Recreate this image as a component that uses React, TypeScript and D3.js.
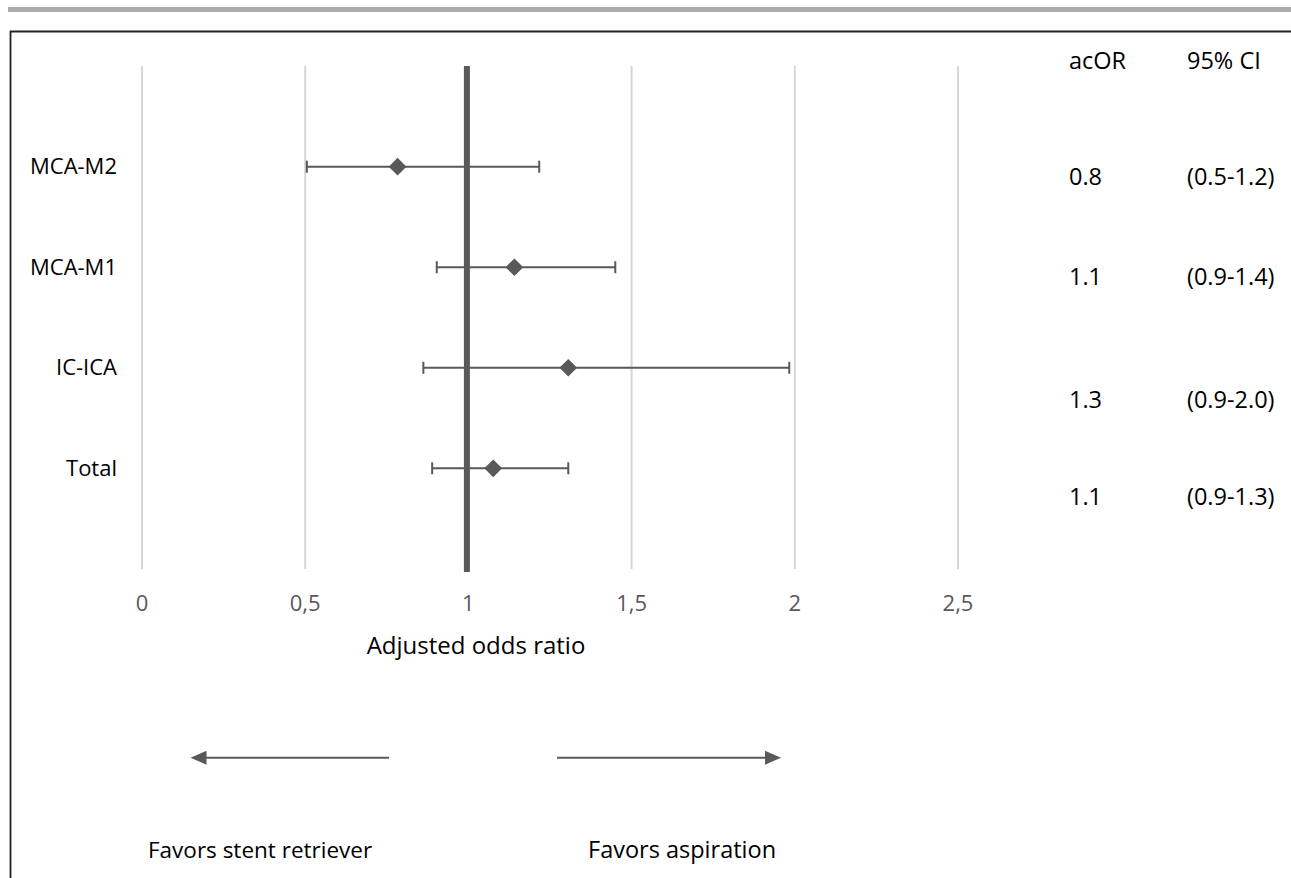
import React from "react";
import * as d3 from "d3";

const categories = ["MCA-M2", "MCA-M1", "IC-ICA", "Total"];
const pointValues = [0.783, 1.141, 1.306, 1.076];
const lowerValues = [0.505, 0.903, 0.862, 0.889];
const upperValues = [1.217, 1.45, 1.983, 1.306];
const tableOR = ["0.8", "1.1", "1.3", "1.1"];
const tableCI = ["(0.5-1.2)", "(0.9-1.4)", "(0.9-2.0)", "(0.9-1.3)"];
const tickValues = [0, 0.5, 1, 1.5, 2, 2.5];
const tickLabels = ["0", "0,5", "1", "1,5", "2", "2,5"];

const W = 1291;
const H = 878;
const FONT = "'Open Sans', 'Liberation Sans', sans-serif";
const DARK = "#595959";

export default function App() {
  const x = d3.scaleLinear().domain([0, 2.5]).range([142, 958]);
  const y = d3.scalePoint<string>().domain(categories).range([166.7, 468.3]);
  const tableRowsY = [177, 277, 400, 497];
  const plotTop = 66;
  const plotBottom = 569;
  const diamond = d3.symbol().type(d3.symbolDiamond2).size(200)();
  const leftArrow = d3.line()([[389, 757.7], [204, 757.7]]) || "";
  const rightArrow = d3.line()([[557, 757.7], [767, 757.7]]) || "";

  return (
    <svg
      width={W}
      height={H}
      style={{ position: "absolute", left: 0, top: 0, background: "#fff" }}
      fontFamily={FONT}
    >
      <rect x={8} y={7} width={W - 8} height={5} fill="#ababae" />
      <line x1={10} y1={31.5} x2={W} y2={31.5} stroke="#222" strokeWidth={1.8} />
      <line x1={10.5} y1={31} x2={10.5} y2={H} stroke="#222" strokeWidth={1.8} />

      {tickValues.map((t) => (
        <line
          key={"g" + t}
          x1={x(t)}
          x2={x(t)}
          y1={plotTop}
          y2={plotBottom}
          stroke="#d6d6d6"
          strokeWidth={2}
        />
      ))}
      <line
        x1={x(1) - 1.5}
        x2={x(1) - 1.5}
        y1={plotTop}
        y2={plotBottom + 3}
        stroke={DARK}
        strokeWidth={6}
      />

      {tickValues.map((t, i) => (
        <text
          key={"t" + t}
          x={x(t)}
          y={611}
          textAnchor="middle"
          fontSize={22}
          fill={DARK}
        >
          {tickLabels[i]}
        </text>
      ))}
      <text x={476} y={654} textAnchor="middle" fontSize={24} fill="#000">
        Adjusted odds ratio
      </text>

      {categories.map((c, i) => {
        const cy = y(c) as number;
        return (
          <g key={c}>
            <text x={117} y={cy + 7.5} textAnchor="end" fontSize={22} fill="#000">
              {c}
            </text>
            <line
              x1={x(lowerValues[i])}
              x2={x(upperValues[i])}
              y1={cy}
              y2={cy}
              stroke={DARK}
              strokeWidth={2}
            />
            <line
              x1={x(lowerValues[i])}
              x2={x(lowerValues[i])}
              y1={cy - 6}
              y2={cy + 6}
              stroke={DARK}
              strokeWidth={2}
            />
            <line
              x1={x(upperValues[i])}
              x2={x(upperValues[i])}
              y1={cy - 6}
              y2={cy + 6}
              stroke={DARK}
              strokeWidth={2}
            />
            <path
              d={diamond || ""}
              transform={`translate(${x(pointValues[i])},${cy})`}
              fill={DARK}
            />
          </g>
        );
      })}

      <text x={1069} y={69.3} fontSize={23.5} fill="#000">acOR</text>
      <text x={1187} y={69.3} fontSize={23.5} fill="#000">95% CI</text>
      {categories.map((c, i) => (
        <g key={"tb" + c}>
          <text x={1069} y={tableRowsY[i] + 8.4} fontSize={23.5} fill="#000">
            {tableOR[i]}
          </text>
          <text x={1187} y={tableRowsY[i] + 8.4} fontSize={23.5} fill="#000">
            {tableCI[i]}
          </text>
        </g>
      ))}

      <path d={leftArrow} stroke={DARK} strokeWidth={2} fill="none" />
      <path d="M190.5,757.7 L206.5,750.7 L206.5,764.7 Z" fill={DARK} />
      <path d={rightArrow} stroke={DARK} strokeWidth={2} fill="none" />
      <path d="M781,757.7 L765,750.7 L765,764.7 Z" fill={DARK} />

      <text x={148} y={858} fontSize={22.5} fill="#000">
        Favors stent retriever
      </text>
      <text x={588} y={858} fontSize={23.5} fill="#000">
        Favors aspiration
      </text>
    </svg>
  );
}
